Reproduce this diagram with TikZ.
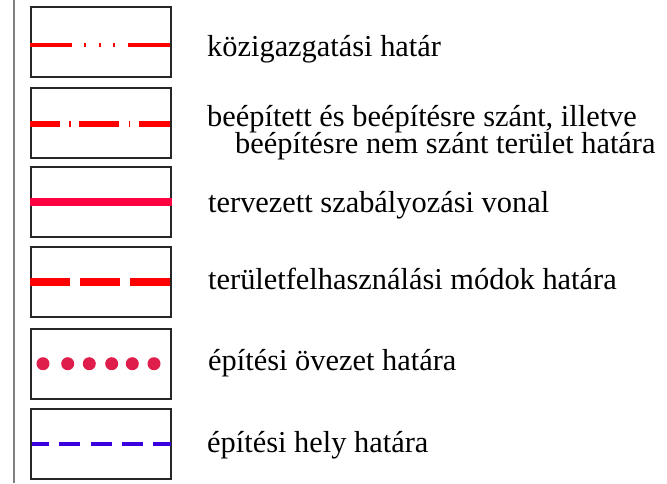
\documentclass[tikz,border=0pt]{standalone}
\usepackage{fontspec}
\setmainfont{Liberation Serif}
\definecolor{lred}{RGB}{255,0,0}
\definecolor{lcrimson}{RGB}{255,0,64}
\definecolor{ldot}{RGB}{224,30,75}
\definecolor{lblue}{RGB}{58,0,224}
\definecolor{lgray}{RGB}{128,128,128}
\tikzset{
  legbox/.style={draw=black!85, line width=1.4pt, minimum width=140pt, minimum height=70pt, inner sep=0pt},
  legtext/.style={anchor=base west, inner sep=0pt, font=\fontsize{30.4}{34}\selectfont},
}
\begin{document}
\begin{tikzpicture}[x=1pt,y=-1pt]
\useasboundingbox (0,0) rectangle (667,483);
\coordinate (vtop) at (14,0);
\coordinate (vbot) at (14,483);
\draw[lgray, line width=2pt] (vtop) -- (vbot);

% boxes
\node[legbox] (b1) at (101,42) {};
\node[legbox] (b2) at (101,123) {};
\node[legbox] (b3) at (101,202) {};
\node[legbox] (b4) at (101,282) {};
\node[legbox] (b5) at (101,364) {};
\node[legbox] (b6) at (101,444) {};

% line 1: közigazgatási határ
\draw[lred, line width=3.5pt, dash pattern=on 42pt off 12pt on 2pt off 12.5pt on 2pt off 12.5pt on 2pt off 13pt on 42pt]
  ([yshift=-3pt]b1.west) -- ([yshift=-3pt]b1.east);
% line 2
\draw[lred, line width=6pt, dash pattern=on 30pt off 9pt on 1.6pt off 8.4pt on 40pt off 9.4pt on 1.6pt off 9pt on 31pt]
  ([yshift=-1pt]b2.west) -- ([yshift=-1pt]b2.east);
% line 3
\draw[lcrimson, line width=8pt] (b3.west) -- (b3.east);
% line 4
\draw[lred, line width=8.5pt, dash pattern=on 40pt off 10pt on 40pt off 10pt on 40pt]
  (b4.west) -- (b4.east);
% line 5: dots
\foreach \x in {43,67.7,89.3,111.7,132.3,154}
  \fill[ldot] (\x,363.7) circle (6.5pt);
% line 6
\coordinate (s6) at ([xshift=2pt]b6.west);
\coordinate (e6) at ([xshift=1pt]b6.east);
\draw[lblue, line width=4pt, dash pattern=on 17pt off 10pt on 21pt off 11pt on 21pt off 10pt on 21pt off 10pt on 18pt]
  (s6) -- (e6);

% labels
\node[legtext] (t1) at (207,56) {közigazgatási határ};
\node[legtext] (t2a) at (207,126) {beépített és beépítésre szánt, illetve};
\node[legtext] (t2b) at (235,153) {beépítésre nem szánt terület határa};
\node[legtext] (t3) at (208,212) {tervezett szabályozási vonal};
\node[legtext] (t4) at (208,289) {területfelhasználási módok határa};
\node[legtext] (t5) at (208,370) {építési övezet határa};
\node[legtext] (t6) at (207,452) {építési hely határa};
\end{tikzpicture}
\end{document}
